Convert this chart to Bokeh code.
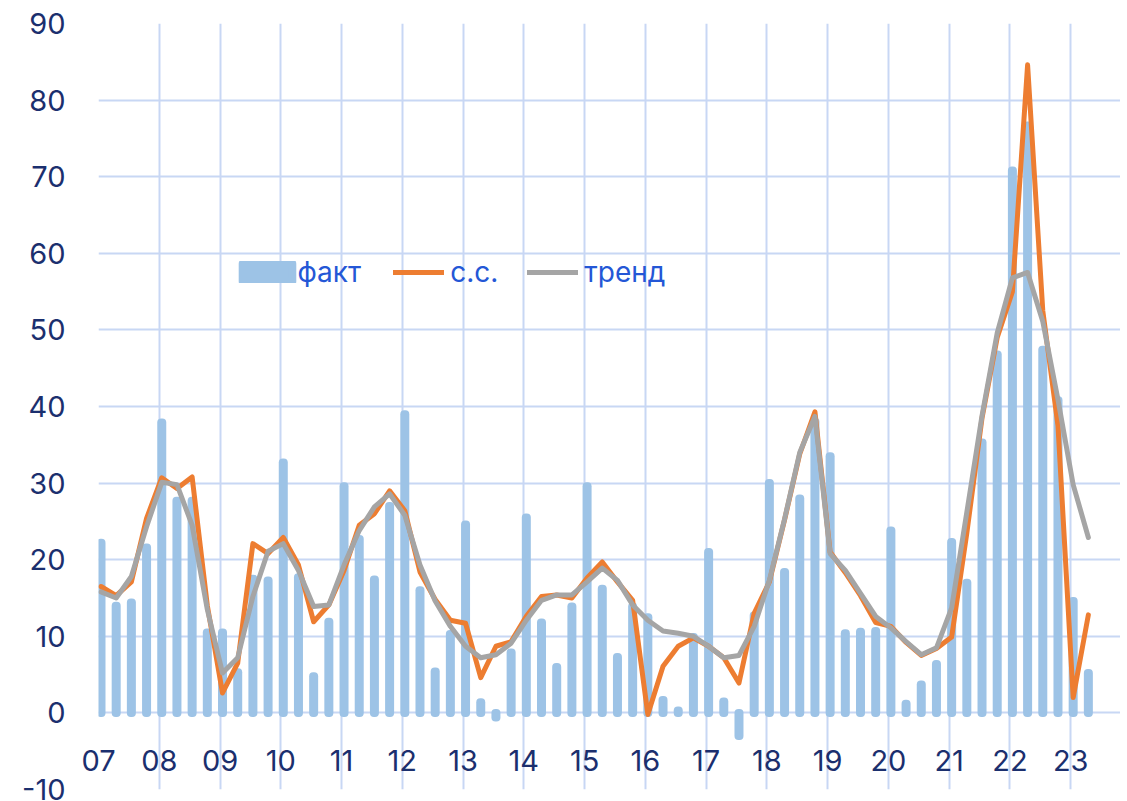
from bokeh.plotting import figure
from bokeh.models import (FixedTicker, Grid, Legend, LegendItem, ColumnDataSource, Range1d,
                          LinearAxis)
from bokeh.embed import file_html
from bokeh.resources import INLINE

# ---------------- data ----------------
years = list(range(2007, 2024))
year_labels = ["07", "08", "09", "10", "11", "12", "13", "14", "15",
               "16", "17", "18", "19", "20", "21", "22", "23"]
quarters = [(y, q) for y in years for q in (1, 2, 3, 4)][:66]

fact = [22.2, 14.0, 14.4, 21.6,
        37.9, 27.7, 27.7, 10.5,
        10.5, 5.3, 17.5, 17.3,
        32.7, 17.7, 4.8, 11.9,
        29.6, 22.7, 17.4, 27.0,
        39.0, 16.0, 5.4, 10.3,
        24.6, 1.4, -0.6, 7.9,
        25.5, 11.8, 6.0, 13.9,
        29.6, 16.2, 7.3, 13.9,
        12.5, 1.7, 0.3, 9.9,
        21.0, 1.5, -3.0, 12.7,
        30.0, 18.4, 28.0, 38.0,
        33.5, 10.4, 10.6, 10.7,
        23.8, 1.2, 3.7, 6.4,
        22.3, 17.0, 35.3, 46.8,
        70.8, 76.7, 47.4, 40.8,
        14.6, 5.2]

sa = [16.5, 15.3, 17.1, 25.4,
      30.7, 29.3, 30.8, 14.0,
      2.6, 6.5, 22.1, 20.8,
      22.9, 19.3, 11.9, 14.1,
      18.6, 24.5, 26.0, 29.0,
      26.4, 18.4, 14.8, 12.1,
      11.7, 4.6, 8.7, 9.3,
      12.6, 15.2, 15.4, 15.0,
      17.6, 19.7, 17.1, 14.7,
      -0.2, 6.1, 8.7, 9.8,
      8.7, 7.2, 3.9, 13.0,
      17.1, 25.2, 33.8, 39.3,
      21.0, 18.3, 15.3, 11.8,
      11.3, 9.2, 7.5, 8.4,
      9.9, 23.5, 38.5, 49.0,
      55.0, 84.6, 52.5, 37.5,
      2.0, 12.8]

trend = [15.8, 15.0, 17.8, 24.3,
         30.1, 29.8, 24.5, 13.5,
         5.2, 7.2, 15.2, 21.1,
         22.1, 18.6, 13.9, 14.1,
         19.3, 23.8, 26.9, 28.6,
         25.8, 19.3, 14.6, 11.3,
         8.7, 7.2, 7.6, 9.1,
         12.1, 14.7, 15.4, 15.4,
         17.1, 18.9, 17.3, 14.1,
         12.1, 10.7, 10.4, 10.0,
         8.7, 7.2, 7.5, 11.3,
         17.3, 25.3, 34.0, 38.7,
         20.8, 18.6, 15.6, 12.6,
         11.1, 9.3, 7.6, 8.5,
         13.7, 26.2, 38.8, 49.6,
         56.8, 57.5, 51.1, 40.9,
         29.8, 22.9]

series_names = ["факт", "с.с.", "тренд"]
yticks = list(range(-10, 100, 10))

# ---------------- style ----------------
BAR = "#9dc3e6"
ORANGE = "#ed7d31"
GRAY = "#a5a5a5"
NAVY = "#1b2f6e"
LEG_BLUE = "#2457d6"
GRID = "#c8d7f4"
FONT = "Inter"

OFFSET = 0.041
xq = [y + (q - 1) / 4 + OFFSET for (y, q) in quarters]
src = ColumnDataSource(dict(x=xq, fact=fact, sa=sa, trend=trend))

p = figure(width=1120, height=801, output_backend="svg", toolbar_location=None,
           x_range=Range1d(2007, 2023.82), y_range=Range1d(-10, 90),
           x_axis_type=None,
           min_border_left=98, min_border_right=0, min_border_top=23, min_border_bottom=12)
p.outline_line_color = None
p.background_fill_color = "white"
p.border_fill_color = "white"

# grids
p.ygrid.ticker = FixedTicker(ticks=yticks)
p.ygrid.grid_line_color = GRID
p.ygrid.grid_line_width = 2
xgrid = Grid(dimension=0, ticker=FixedTicker(ticks=years),
             grid_line_color=GRID, grid_line_width=2)
p.add_layout(xgrid)

# y axis
yax = p.yaxis[0]
yax.ticker = FixedTicker(ticks=yticks)
yax.major_label_overrides = {v: str(v) for v in yticks}
yax.axis_line_color = None
yax.major_tick_line_color = None
yax.minor_tick_line_color = None
yax.major_tick_out = 0
yax.major_tick_in = 0
yax.major_label_standoff = 33
yax.major_label_text_font = FONT
yax.major_label_text_font_size = "29px"
yax.major_label_text_color = NAVY

# x axis: labels drawn up inside the frame (below the zero line)
xax = LinearAxis(ticker=FixedTicker(ticks=years),
                 major_label_overrides={y: l for y, l in zip(years, year_labels)},
                 axis_line_color=None, major_tick_line_color=None,
                 minor_tick_line_color=None, major_tick_out=0, major_tick_in=0,
                 major_label_standoff=-40,
                 major_label_text_font=FONT, major_label_text_font_size="29px",
                 major_label_text_color=NAVY)
p.add_layout(xax, "below")

# bars (thin bars with thick rounded outline)
bars = p.vbar(x="x", top="fact", bottom=0, width=0.0165, source=src,
              fill_color=BAR, line_color=BAR, line_width=8, line_join="round")
l_sa = p.line("x", "sa", source=src, line_color=ORANGE, line_width=5,
              line_join="round", line_cap="round")
l_tr = p.line("x", "trend", source=src, line_color=GRAY, line_width=5,
              line_join="round", line_cap="round")

# legends
common = dict(orientation="horizontal", padding=0, margin=0, border_line_color=None,
              background_fill_alpha=0, label_text_font=FONT,
              label_text_font_size="28px", label_text_color=LEG_BLUE,
              glyph_height=22)
leg1 = Legend(items=[LegendItem(label=series_names[0], renderers=[bars])],
              location=(137.5, 500), glyph_width=62, label_standoff=0, **common)
leg2 = Legend(items=[LegendItem(label=series_names[1], renderers=[l_sa]),
                     LegendItem(label=series_names[2], renderers=[l_tr])],
              location=(295.2, 500), glyph_width=51, label_standoff=6, spacing=29,
              **common)
p.add_layout(leg1)
p.add_layout(leg2)

open("out.html", "w").write(file_html(p, INLINE))
